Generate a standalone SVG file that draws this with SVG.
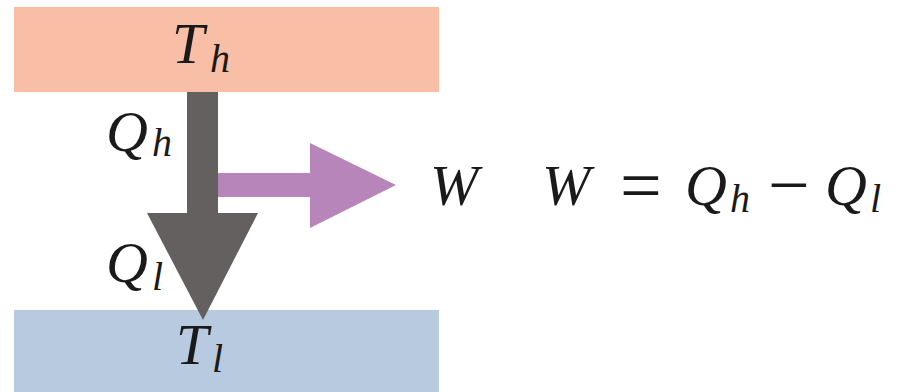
<svg xmlns="http://www.w3.org/2000/svg" width="903" height="392" viewBox="0 0 903 392">
<style>
text{font-family:'Liberation Serif','Times New Roman','DejaVu Serif',serif;fill:#1a1a1a}
.m{font-style:italic}
.big{font-size:58px}
.op{font-size:74px}
.sub{font-size:40px}
</style>
<rect width="903" height="392" fill="#ffffff"/>
<g id="hot">
<rect x="14" y="7" width="425" height="85" fill="#F9BFA6"/>
<text class="m big" x="172" y="63">T</text><text class="m sub" x="210" y="72">h</text>
</g>
<g id="cold">
<rect x="14" y="310" width="425" height="82" fill="#B8CAE0"/>
<text class="m big" x="176" y="364">T</text><text class="m sub" x="212" y="372">l</text>
</g>
<g id="connectors">
<polygon points="218,173 310,173 310,143 396,185 310,228 310,197 218,197" fill="#B785BA"/>
<polygon points="187,92 218,92 218,213 258,213 203,320 147,213 187,213" fill="#5F5B5B" fill-opacity="0.97"/>
</g>
<g id="labels">
<text class="m big" x="106" y="151">Q</text><text class="m sub" x="152" y="156">h</text>
<text class="m big" x="106" y="282">Q</text><text class="m sub" x="152" y="290">l</text>
<text class="m big" x="430" y="205">W</text>
</g>
<g id="equation">
<text class="m big" x="542" y="205">W</text>
<text class="op" x="620" y="210">=</text>
<text class="m big" x="685" y="205">Q</text><text class="m sub" x="730" y="212">h</text>
<text class="op" x="768" y="210">−</text>
<text class="m big" x="825" y="205">Q</text><text class="m sub" x="870" y="212">l</text>
</g>
</svg>
